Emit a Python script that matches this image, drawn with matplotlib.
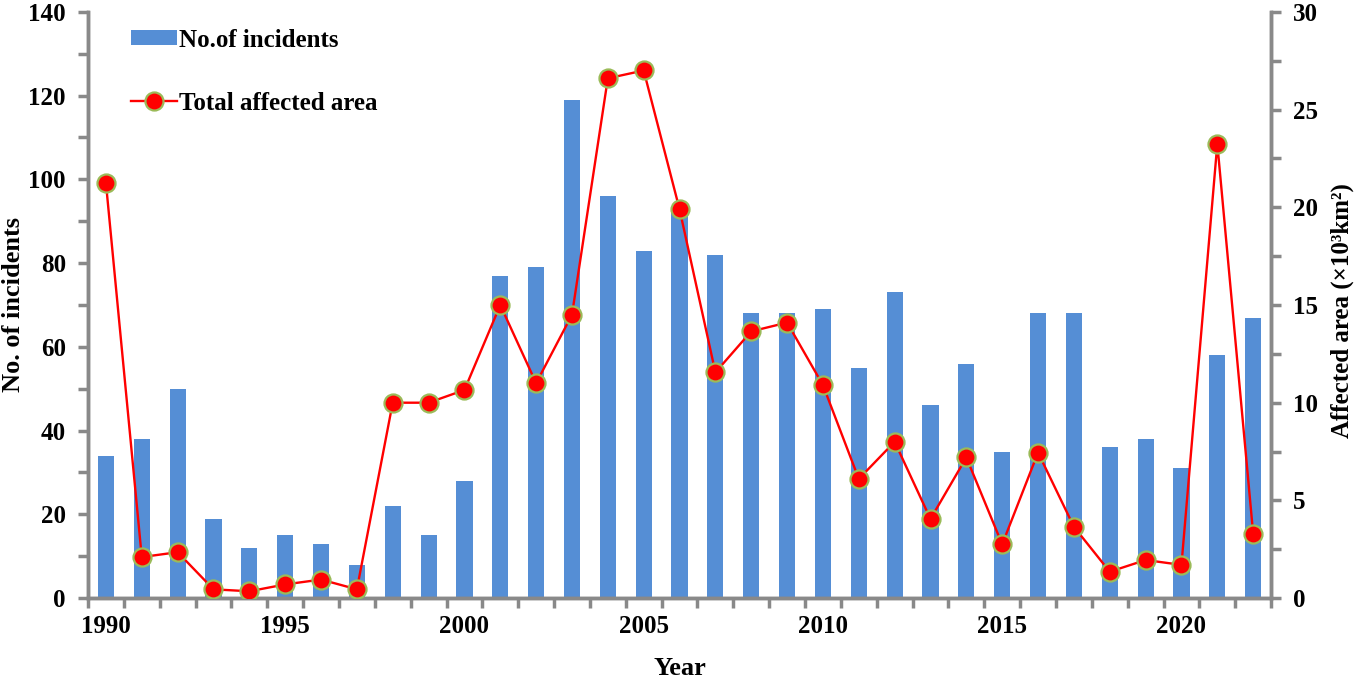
import matplotlib
matplotlib.use('Agg')
import matplotlib.pyplot as plt
import numpy as np

years = list(range(1990, 2023))
incidents = [34, 38, 50, 19, 12, 15, 13, 8, 22, 15, 28, 77, 79, 119, 96, 83, 93,
             82, 68, 68, 69, 55, 73, 46, 56, 35, 68, 68, 36, 38, 31, 58, 67]
area = [21.25, 2.1, 2.35, 0.45, 0.35, 0.7, 0.95, 0.45, 10.0, 10.0, 10.65, 15.0,
        11.0, 14.5, 26.6, 27.0, 19.9, 11.55, 13.65, 14.1, 10.9, 6.1, 8.0, 4.05,
        7.2, 2.75, 7.45, 3.65, 1.35, 1.95, 1.7, 23.25, 3.3]
year_labels = ['1990', '1995', '2000', '2005', '2010', '2015', '2020']

plt.rcParams['font.family'] = ['Liberation Serif', 'DejaVu Serif']
plt.rcParams['font.weight'] = 'bold'
grey = '#898989'
fs = 18

fig = plt.figure(figsize=(13.58, 6.82), dpi=100)
ax = fig.add_axes([0.0648, 0.123, 0.8712, 0.8596])
x = np.arange(len(years))
bars = ax.bar(x, incidents, width=0.45, color='#558ed5', label='No.of incidents', zorder=2)
ax.set_xlim(-0.5, len(years) - 0.5)
ax.set_ylim(0, 140)
ax.set_yticks(range(0, 141, 20))
ax.set_yticks(range(10, 141, 20), minor=True)

pos = [years.index(int(y)) for y in year_labels]
ax.set_xticks(pos)
ax.set_xticklabels(year_labels)
ax.set_xticks(np.arange(-0.5, len(years), 1), minor=True)
ax.tick_params(axis='x', which='major', length=0, pad=12, labelsize=fs)
ax.tick_params(axis='x', which='minor', length=7, width=2.5, color=grey)
ax.tick_params(axis='y', which='both', length=7, width=2.5, color=grey, labelsize=fs, pad=9)

for s in ['left', 'bottom', 'right']:
    ax.spines[s].set_color(grey)
    ax.spines[s].set_linewidth(2.5)
ax.spines['top'].set_visible(False)

ax.set_xlabel('Year', fontsize=19, fontweight='bold', labelpad=14)
ax.set_ylabel('No. of incidents', fontsize=19, fontweight='bold')
ax.yaxis.set_label_coords(-0.053, 0.5)

ax2 = ax.twinx()
line, = ax2.plot(x, area, color='red', lw=1.7, marker='o', markersize=13,
                 markerfacecolor='red', markeredgecolor='#9bbb59', markeredgewidth=1.6,
                 label='Total affected area', zorder=3)
ax2.set_ylim(0, 30)
ax2.set_yticks(range(0, 31, 5))
ax2.set_yticks(np.arange(2.5, 30, 5), minor=True)
ax2.tick_params(axis='y', which='both', length=7, width=2.5, color=grey, labelsize=fs, pad=9)
for s in ['left', 'bottom', 'right']:
    ax2.spines[s].set_color(grey)
    ax2.spines[s].set_linewidth(2.5)
ax2.spines['top'].set_visible(False)
ax2.set_ylabel('Affected area (×10³km²)', fontsize=18, fontweight='bold')
ax2.yaxis.set_label_coords(1.050, 0.49)

ax2.legend(handles=[bars, line], loc='upper left', bbox_to_anchor=(0.017, 1.01),
           frameon=False, fontsize=fs, handlelength=1.85, handleheight=0.55,
           labelspacing=1.6, handletextpad=0.1)

fig.savefig('out.png', dpi=100)
